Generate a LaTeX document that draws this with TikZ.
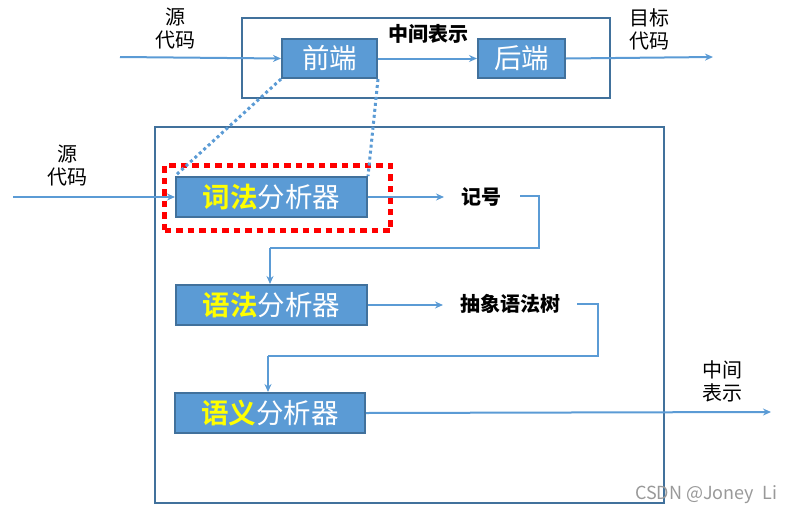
\documentclass[tikz,border=0pt]{standalone}
\usepackage{fontspec}
\setmainfont{Noto Sans CJK SC}
\newfontfamily\cjkb[BoldFont={Noto Sans CJK SC Bold}]{Noto Sans CJK SC}
\usetikzlibrary{arrows.meta}
\definecolor{boxfill}{HTML}{5B9BD5}
\definecolor{boxline}{HTML}{41719C}
\definecolor{linec}{HTML}{5B9BD5}
\definecolor{hiyel}{HTML}{FFFF00}
\tikzset{
  x=1pt,y=-1pt,
  stage/.style={draw=boxline,line width=2pt,fill=boxfill,text=white,inner sep=0pt,font=\fontsize{27.5}{30}\selectfont},
  frame/.style={draw=boxline,line width=2pt},
  conn/.style={draw=linec,line width=2pt,-{Stealth[length=8pt,width=7pt]}},
  wire/.style={draw=linec,line width=2pt},
  lbl/.style={font=\fontsize{20}{23}\selectfont,align=center,inner sep=0pt},
  blbl/.style={font=\fontsize{20}{23}\selectfont\bfseries,inner sep=0pt},
  dots/.style={draw=linec,line width=3pt,dash pattern=on 3pt off 3pt}
}
\begin{document}
\begin{tikzpicture}
\useasboundingbox (0,0) rectangle (795,517);
% top frame
\node[frame,minimum width=368pt,minimum height=80pt,anchor=north west,inner sep=0pt] (top) at (241,17) {};
\node[stage,minimum width=95pt,minimum height=39pt,anchor=north west] (fe) at (281,38) {前端};
\node[stage,minimum width=87pt,minimum height=39pt,anchor=north west] (be) at (477,38) {后端};
\node[blbl] (mid) at (428,34) {中间表示};
\node[lbl] (src1) at (175,29) {源\\代码};
\node[lbl] (tgt) at (649,29) {目标\\代码};
\coordinate (in1) at (120,57);
\coordinate (out1) at (713,57);
\draw[conn] (in1) -- (fe.west);
\draw[conn] (fe.east) -- (be.west);
\draw[conn] (be.east) -- (out1);
% lower frame
\node[frame,minimum width=509pt,minimum height=376pt,anchor=north west,inner sep=0pt] (low) at (154,126) {};
\node[stage,minimum width=191pt,minimum height=40pt,anchor=north west] (lex) at (175,176) {{\cjkb\bfseries\color{hiyel}词法}分析器};
\node[stage,minimum width=191pt,minimum height=40pt,anchor=north west] (syn) at (175,284) {{\cjkb\bfseries\color{hiyel}语法}分析器};
\node[stage,minimum width=190pt,minimum height=40pt,anchor=north west] (sem) at (174,392) {{\cjkb\bfseries\color{hiyel}语义}分析器};
\node[draw=red,line width=5pt,dash pattern=on 6.5pt off 5pt,minimum width=226pt,minimum height=65pt,anchor=north west,inner sep=0pt] (hl) at (162,163) {};
\draw[dots] (fe.south west) -- (lex.north west);
\draw[dots] (fe.south east) -- (lex.north east);
\node[lbl] (src2) at (67,166) {源\\代码};
\coordinate (in2) at (13,197);
\draw[conn] (in2) -- (in2 -| lex.west);
\node[blbl] (tok) at (481,197) {记号};
\draw[conn] (lex.east) -- (lex.east -| 444,0);
\coordinate (t1) at (539,196);
\coordinate (t2) at (539,248);
\coordinate (t3) at (270,248);
\draw[wire] (520,196) -- (t1) -- (t2) -- (t3);
\draw[conn] (t3) -- (syn.north -| t3);
\node[blbl] (ast) at (510,304) {抽象语法树};
\draw[conn] (syn.east) -- (syn.east -| 443,0);
\coordinate (a1) at (598,304);
\coordinate (a2) at (598,356);
\coordinate (a3) at (268,356);
\draw[wire] (577,304) -- (a1) -- (a2) -- (a3);
\draw[conn] (a3) -- (sem.north -| a3);
\coordinate (out2) at (771,412);
\draw[conn] (sem.east) -- (out2);
\node[lbl] (ir) at (722,381) {中间\\表示};
\node[font=\fontsize{18}{20}\selectfont,text=black!40,inner sep=0pt] (wm) at (706,495) {CSDN @Joney\ \ Li};
\end{tikzpicture}
\end{document}
